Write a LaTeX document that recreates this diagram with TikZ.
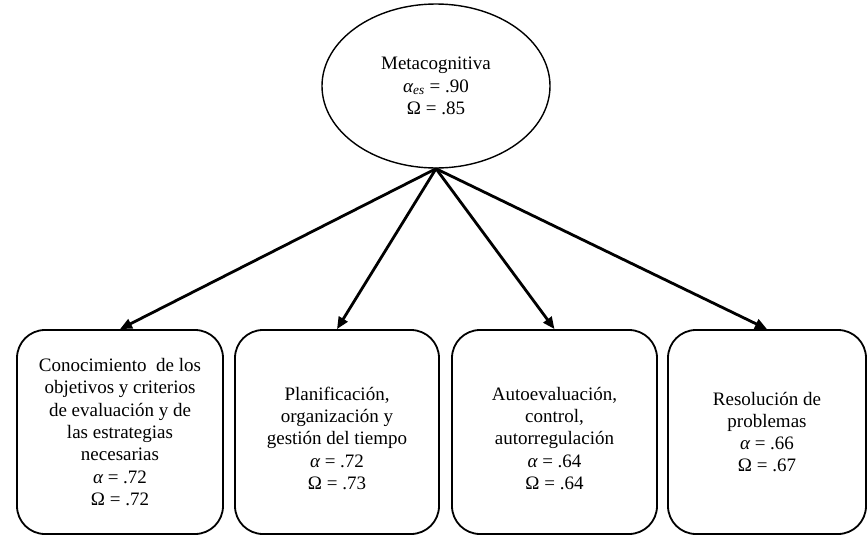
\documentclass[tikz,border=0pt]{standalone}
\usepackage{fontspec}
\setmainfont{Liberation Serif}
\usetikzlibrary{shapes.geometric,arrows.meta}
\tikzset{
  factor/.style={draw, ellipse, line width=1.4pt, minimum width=228pt, minimum height=164pt, inner sep=0pt, align=center, font=\fontsize{19}{22.5}\selectfont},
  subbox/.style={draw, line width=1.8pt, rounded corners=28pt, minimum height=204pt, inner sep=0pt, align=center, font=\fontsize{19}{22.3}\selectfont},
  load/.style={line width=2.8pt, -{Triangle[length=12pt,width=10pt]}}
}
\newcommand{\al}{{\itshape α}}
\begin{document}
\begin{tikzpicture}[x=1pt,y=-1pt]
\useasboundingbox (0,0) rectangle (868,536);
\node[factor] (e) at (436,86) {Metacognitiva\\ \al\textsubscript{\itshape es}{} = .90\\ Ω = .85};
\node[subbox, minimum width=206pt] (b1) at (120,432) {Conocimiento\ \ de los\\ objetivos y criterios\\ de evaluación y de\\ las estrategias\\ necesarias\\ \al{} = .72\\ Ω = .72};
\node[subbox, minimum width=204pt] (b2) at (337,432) {\rule{0pt}{26pt}Planificación,\\ organización y\\ gestión del tiempo\\ \al{} = .72\\ Ω = .73};
\node[subbox, minimum width=205pt] (b3) at (554.5,432) {\rule{0pt}{26pt}Autoevaluación,\\ control,\\ autorregulación\\ \al{} = .64\\ Ω = .64};
\node[subbox, minimum width=198pt] (b4) at (767,432) {Resolución de\\ problemas\\ \al{} = .66\\ Ω = .67};
\draw[load] (e.south) -- (b1.north);
\draw[load] (e.south) -- (b2.north);
\draw[load] (e.south) -- (b3.north);
\draw[load] (e.south) -- (b4.north);
\end{tikzpicture}
\end{document}
